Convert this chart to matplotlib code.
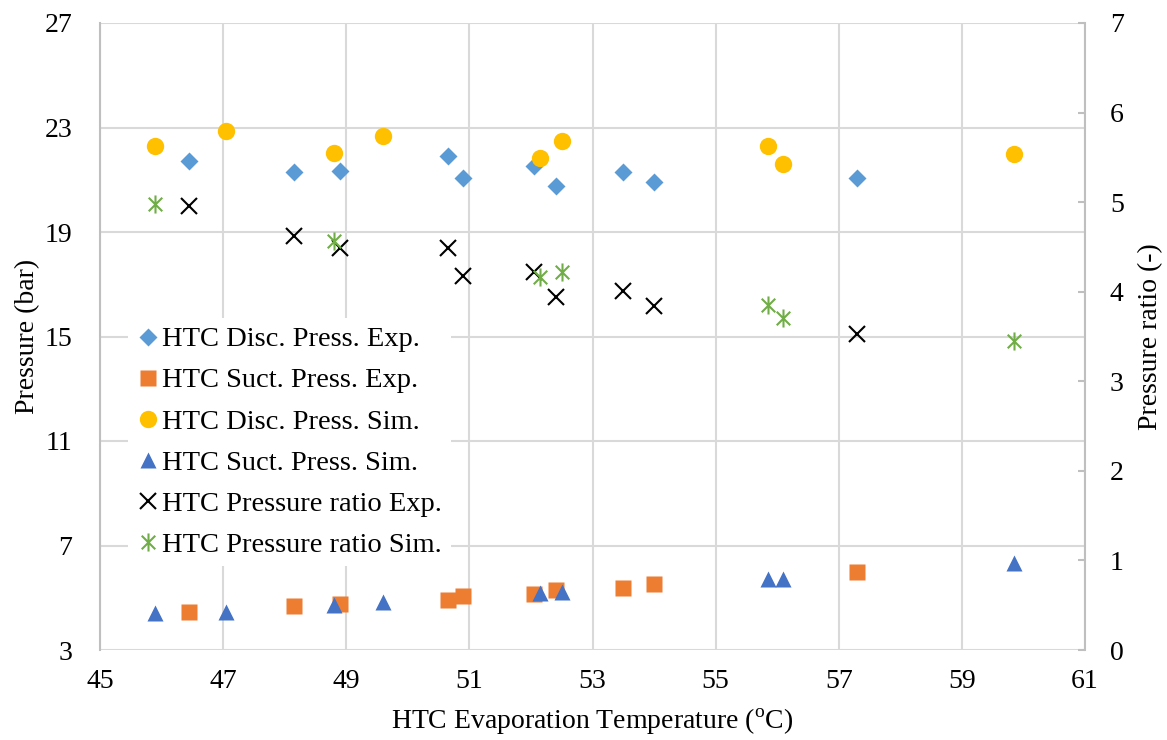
import matplotlib
matplotlib.use("Agg")
import matplotlib.pyplot as plt
from matplotlib.path import Path

plt.rcParams['font.family'] = ['Liberation Serif', 'DejaVu Serif']
plt.rcParams['mathtext.fontset'] = 'custom'
plt.rcParams['mathtext.rm'] = 'Liberation Serif'

# experimental points (HTC evaporation temperature, degC)
t_exp = [46.45, 48.15, 48.9, 50.65, 50.9, 52.05, 52.4, 53.5, 54.0, 57.3]
disc_exp = [21.72, 21.30, 21.33, 21.91, 21.07, 21.53, 20.76, 21.30, 20.91, 21.07]
suct_exp = [4.45, 4.68, 4.76, 4.91, 5.07, 5.14, 5.30, 5.37, 5.53, 5.99]
ratio_exp = [4.96, 4.62, 4.49, 4.49, 4.18, 4.22, 3.94, 4.01, 3.84, 3.53]

# simulated points
t_sim = [45.9, 47.05, 48.8, 49.6, 52.15, 52.5, 55.85, 56.1, 59.85]
disc_sim = [22.29, 22.87, 22.02, 22.67, 21.83, 22.48, 22.29, 21.60, 21.99]
suct_sim = [4.42, 4.46, 4.72, 4.84, 5.18, 5.22, 5.72, 5.72, 6.33]
ratio_sim = [4.98, 4.57, 4.16, 4.22, 3.85, 3.71, 3.45]
t_ratio_sim = [45.9, 48.8, 52.15, 52.5, 55.85, 56.1, 59.85]

fs = 20
gray = '#bfbfbf'

fig = plt.figure(figsize=(11.67, 7.4), dpi=100)
ax = fig.add_axes([100 / 1167, 1 - 650 / 740, 985 / 1167, 627 / 740])
ax2 = ax.twinx()

# excel-like star marker (x with a vertical bar)
star = Path([(0, -1), (0, 1), (-0.75, -0.75), (0.75, 0.75), (-0.75, 0.75), (0.75, -0.75)],
            [Path.MOVETO, Path.LINETO, Path.MOVETO, Path.LINETO, Path.MOVETO, Path.LINETO])

h1, = ax.plot(t_exp, disc_exp, 'D', color='#5B9BD5', ms=9, mec='none', label='HTC Disc. Press. Exp.')
h2, = ax.plot(t_exp, suct_exp, 's', color='#ED7D31', ms=11, mec='none', label='HTC Suct. Press. Exp.')
h3, = ax.plot(t_sim, disc_sim, 'o', color='#FFC000', ms=12.5, mec='none', label='HTC Disc. Press. Sim.')
h4, = ax.plot(t_sim, suct_sim, '^', color='#4472C4', ms=12, mec='none', label='HTC Suct. Press. Sim.')
h5, = ax2.plot(t_exp, ratio_exp, 'x', color='black', ms=12, mew=1.5, label='HTC Pressure ratio Exp.')
h6, = ax2.plot(t_ratio_sim, ratio_sim, marker=star, ls='none', color='#70AD47', ms=13, mew=1.5,
               mfc='none', label='HTC Pressure ratio Sim.')

ax.set_xlim(45, 61)
ax.set_ylim(3, 27)
ax2.set_ylim(0, 7)
ax.set_xticks(range(45, 62, 2))
ax.set_yticks(range(3, 28, 4))
ax2.set_yticks(range(0, 8))

ax.grid(True, color='#d9d9d9', lw=1.5)
ax.set_axisbelow(True)
for a in (ax, ax2):
    for s in a.spines.values():
        s.set_visible(False)
    a.tick_params(length=0, labelsize=fs)
ax.spines['left'].set_visible(True)
ax.spines['left'].set_color(gray)
ax.spines['left'].set_linewidth(1.5)
ax2.spines['right'].set_visible(True)
ax2.spines['right'].set_color(gray)
ax2.spines['right'].set_linewidth(1.5)
ax2.tick_params(axis='y', direction='in', length=5, width=1.5, color=gray, pad=18)
ax.tick_params(axis='y', pad=20)
ax.tick_params(axis='x', pad=14)

ax.set_xlabel(r'HTC Evaporation Temperature ($^{\mathrm{o}}$C)', fontsize=fs, labelpad=9)
ax.set_ylabel('Pressure (bar)', fontsize=fs, labelpad=3)
ax2.set_ylabel('Pressure ratio (-)', fontsize=fs, labelpad=10)

leg = ax2.legend(handles=[h1, h2, h3, h4, h5, h6], loc='upper left',
                 bbox_to_anchor=(128 / 1167, 1 - 318 / 740), bbox_transform=fig.transFigure,
                 fontsize=20.5, frameon=True, facecolor='white', edgecolor='none', framealpha=1,
                 fancybox=False, handlelength=0.8, handletextpad=0.1, labelspacing=0.53,
                 borderpad=0.3, borderaxespad=0)

fig.savefig('out.png', dpi=100)
